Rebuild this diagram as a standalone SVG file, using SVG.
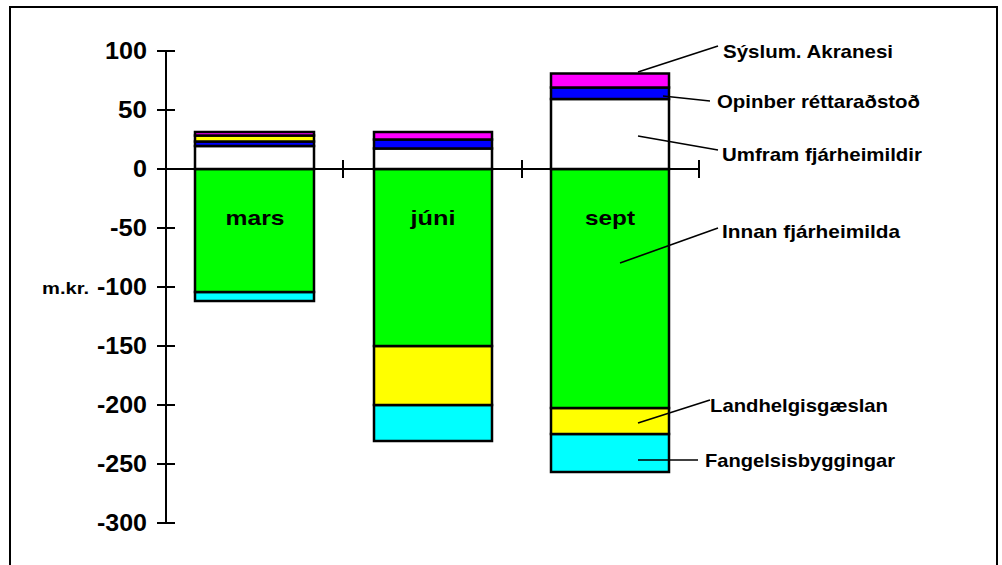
<svg xmlns="http://www.w3.org/2000/svg" width="1002" height="565" viewBox="0 0 1002 565">
<style>
text{font-family:"Liberation Sans",Arial,sans-serif;font-weight:bold;fill:#000}
.ax{font-size:23px;text-anchor:end}
.cat{font-size:21px;text-anchor:middle}
.lab{font-size:19px}
.seg{stroke:#000;stroke-width:2.5}
.ln{stroke:#000;stroke-width:2;fill:none}
.ld{stroke:#000;stroke-width:1.6;fill:none}
</style>
<rect x="0" y="0" width="1002" height="565" fill="#fff"/>
<rect x="10" y="7" width="987" height="570" fill="none" stroke="#000" stroke-width="2"/>
<g id="yaxis">
<path class="ln" d="M166,51V523M157,51H175M157,110H175M157,169H175M157,228H175M157,287H175M157,346H175M157,405H175M157,464H175M157,523H175"/>
<text class="ax" x="147" y="59" textLength="42" lengthAdjust="spacingAndGlyphs">100</text>
<text class="ax" x="147" y="118" textLength="29" lengthAdjust="spacingAndGlyphs">50</text>
<text class="ax" x="147" y="177" textLength="14" lengthAdjust="spacingAndGlyphs">0</text>
<text class="ax" x="147" y="236" textLength="37" lengthAdjust="spacingAndGlyphs">-50</text>
<text class="ax" x="147" y="295" textLength="50" lengthAdjust="spacingAndGlyphs">-100</text>
<text class="ax" x="147" y="354" textLength="50" lengthAdjust="spacingAndGlyphs">-150</text>
<text class="ax" x="147" y="413" textLength="50" lengthAdjust="spacingAndGlyphs">-200</text>
<text class="ax" x="147" y="472" textLength="50" lengthAdjust="spacingAndGlyphs">-250</text>
<text class="ax" x="147" y="531" textLength="50" lengthAdjust="spacingAndGlyphs">-300</text>
<text x="42" y="294" style="font-size:16px" textLength="47" lengthAdjust="spacingAndGlyphs">m.kr.</text>
</g>
<g id="bar-mars">
<rect class="seg" x="195" y="292" width="119" height="9" fill="#00ffff"/>
<rect class="seg" x="195" y="169" width="119" height="123" fill="#00ff00"/>
<rect class="seg" x="195" y="146" width="119" height="23" fill="#fff"/>
<rect class="seg" x="195" y="141.5" width="119" height="4.5" fill="#0000ff"/>
<rect class="seg" x="195" y="135.5" width="119" height="6" fill="#ffff00"/>
<rect class="seg" x="195" y="132" width="119" height="3.5" fill="#ff00ff"/>
<text class="cat" x="255" y="225" textLength="59" lengthAdjust="spacingAndGlyphs">mars</text>
</g>
<g id="bar-juni">
<rect class="seg" x="374" y="405" width="118" height="36" fill="#00ffff"/>
<rect class="seg" x="374" y="346" width="118" height="59" fill="#ffff00"/>
<rect class="seg" x="374" y="169" width="118" height="177" fill="#00ff00"/>
<rect class="seg" x="374" y="148.5" width="118" height="20.5" fill="#fff"/>
<rect class="seg" x="374" y="139.5" width="118" height="9" fill="#0000ff"/>
<rect class="seg" x="374" y="132" width="118" height="7.5" fill="#ff00ff"/>
<text class="cat" x="433" y="225" textLength="45" lengthAdjust="spacingAndGlyphs">júni</text>
</g>
<g id="bar-sept">
<rect class="seg" x="551" y="434" width="118" height="38" fill="#00ffff"/>
<rect class="seg" x="551" y="408" width="118" height="26" fill="#ffff00"/>
<rect class="seg" x="551" y="169" width="118" height="239" fill="#00ff00"/>
<rect class="seg" x="551" y="99" width="118" height="70" fill="#fff"/>
<rect class="seg" x="551" y="87.5" width="118" height="11.5" fill="#0000ff"/>
<rect class="seg" x="551" y="73.5" width="118" height="14" fill="#ff00ff"/>
<text class="cat" x="610" y="225" textLength="50" lengthAdjust="spacingAndGlyphs">sept</text>
</g>
<g id="xaxis">
<path class="ln" d="M166,169H699M343,160V178M522,160V178M699,160V178"/>
</g>
<g id="connectors">
<path class="ld" d="M638,72L718,46"/>
<path class="ld" d="M663,96L710,101"/>
<path class="ld" d="M638,136L718,150"/>
<path class="ld" d="M620,263L718,228"/>
<path class="ld" d="M638,423L710,400"/>
<path class="ld" d="M638,460L698,460"/>
</g>
<g id="labels">
<text class="lab" x="723" y="58" textLength="170" lengthAdjust="spacingAndGlyphs">Sýslum. Akranesi</text>
<text class="lab" x="717" y="108" textLength="203" lengthAdjust="spacingAndGlyphs">Opinber réttaraðstoð</text>
<text class="lab" x="722" y="161" textLength="200" lengthAdjust="spacingAndGlyphs">Umfram fjárheimildir</text>
<text class="lab" x="722" y="238" textLength="178" lengthAdjust="spacingAndGlyphs">Innan fjárheimilda</text>
<text class="lab" x="710" y="412" textLength="178" lengthAdjust="spacingAndGlyphs">Landhelgisgæslan</text>
<text class="lab" x="705" y="467" textLength="190" lengthAdjust="spacingAndGlyphs">Fangelsisbyggingar</text>
</g>
</svg>
